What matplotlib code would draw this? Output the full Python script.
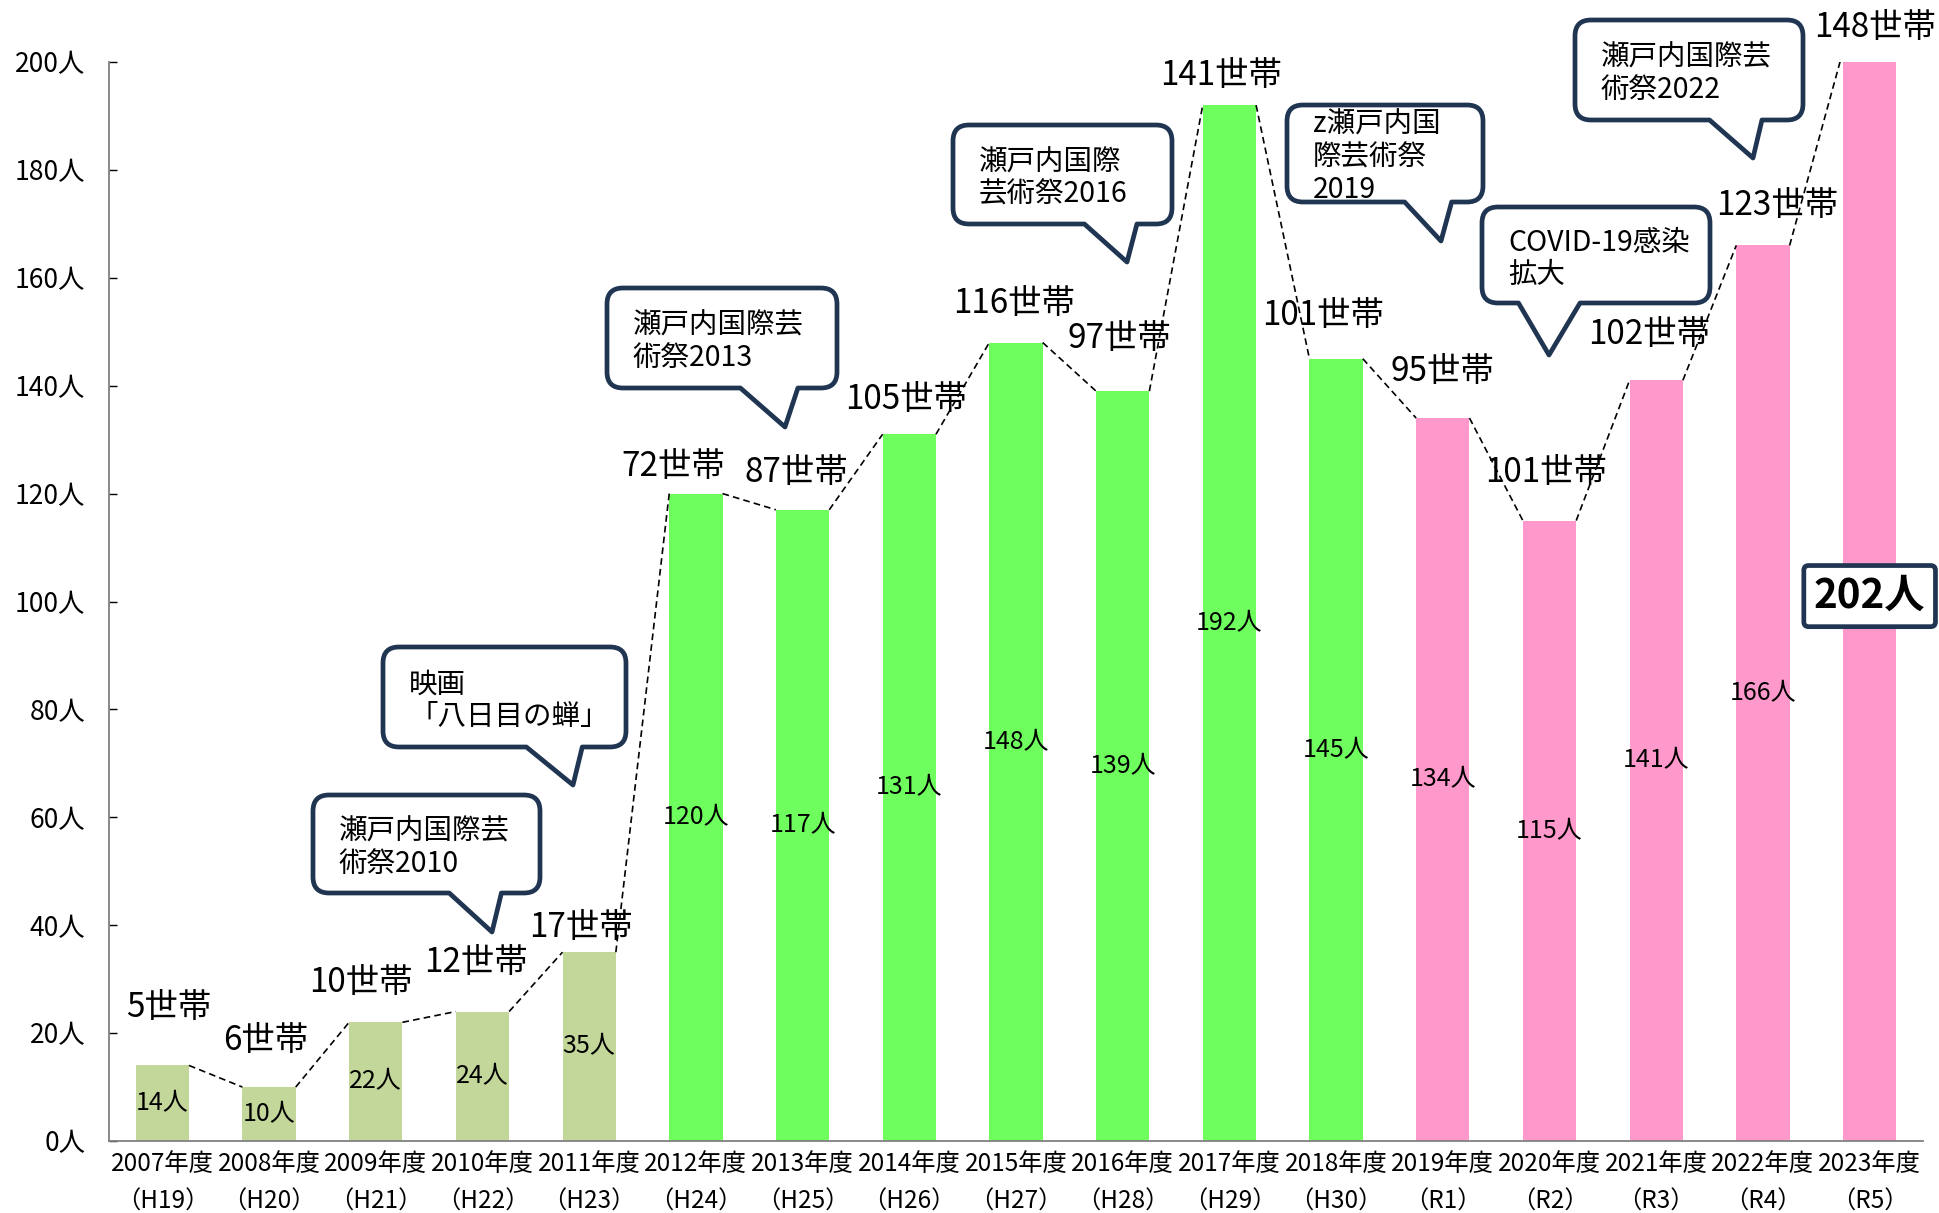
import matplotlib.pyplot as plt
import numpy as np
from matplotlib.path import Path
from matplotlib.patches import PathPatch

plt.rcParams['font.family'] = ['Noto Sans CJK JP', 'DejaVu Sans']

# Data
years = ["2007", "2008", "2009", "2010", "2011", "2012", "2013", "2014", "2015",
         "2016", "2017", "2018", "2019", "2020", "2021", "2022", "2023"]
eras = ["H19", "H20", "H21", "H22", "H23", "H24", "H25", "H26", "H27",
        "H28", "H29", "H30", "R1", "R2", "R3", "R4", "R5"]
people = [14, 10, 22, 24, 35, 120, 117, 131, 148, 139, 192, 145, 134, 115, 141, 166, 202]
households = [5, 6, 10, 12, 17, 72, 87, 105, 116, 97, 141, 101, 95, 101, 102, 123, 148]

# colour groups: 2007-2011, 2012-2018, 2019-2023
group_sizes = [5, 7, 5]
group_colors = ["#c4d79b", "#6eff5e", "#ff99cc"]

# hand placement of the 世帯 labels (data units)
hh_dx = [0.06, -0.03, -0.14, -0.06, -0.08, -0.21, -0.06, -0.03, -0.02,
         -0.03, -0.08, -0.12, 0.0, -0.03, -0.07, 0.13, 0.05]
hh_dy = [10.8, 8.6, 7.3, 9.0, 4.6, 5.0, 6.9, 6.5, 7.3,
         9.7, 5.5, 8.0, 8.7, 8.9, 8.4, 7.4, 6.4]

# callouts: box (left, top, right, bottom) in image pixels, tail base fractions, tip
callouts = [
    ("瀬戸内国際芸\n術祭2010", (313, 795, 540, 893), (0.60, 0.83), (492, 932)),
    ("映画\n「八日目の蝉」", (383, 647, 626, 747), (0.59, 0.82), (573, 785)),
    ("瀬戸内国際芸\n術祭2013", (607, 288, 837, 388), (0.58, 0.83), (785, 427)),
    ("瀬戸内国際\n芸術祭2016", (953, 125, 1172, 224), (0.60, 0.84), (1127, 262)),
    ("z瀬戸内国\n際芸術祭\n2019", (1287, 105, 1483, 202), (0.60, 0.84), (1441, 241)),
    ("COVID-19感染\n拡大", (1482, 207, 1710, 303), (0.16, 0.43), (1549, 355)),
    ("瀬戸内国際芸\n術祭2022", (1575, 20, 1803, 120), (0.59, 0.82), (1753, 158)),
]

W, H = 1939, 1213
navy = "#1f3552"

fig = plt.figure(figsize=(W / 100, H / 100), dpi=100)
ax = fig.add_axes([109 / W, 1 - 1141 / H, (1923 - 109) / W, (1141 - 62) / H])

x = np.arange(len(years))
colors = [c for c, n in zip(group_colors, group_sizes) for _ in range(n)]
ymax = 200
tops = np.minimum(people, ymax)
bw = 0.5

ax.bar(x, people, width=bw, color=colors, zorder=2)

# dashed connectors between neighbouring bar tops
for i in range(len(x) - 1):
    ax.plot([x[i] + bw / 2, x[i + 1] - bw / 2], [people[i], people[i + 1]],
            color="black", lw=1.2, ls=(0, (4, 2.5)), zorder=3)

# value labels inside bars
for i, v in enumerate(people):
    if i == len(people) - 1:
        ax.text(x[i], v / 2, f"{v}人", ha="center", va="center", fontsize=29,
                fontweight="bold", zorder=5, clip_on=False,
                bbox=dict(boxstyle="round,pad=0.25,rounding_size=0.12",
                          fc="white", ec=navy, lw=3.4))
    else:
        ax.text(x[i], tops[i] / 2, f"{v}人", ha="center", va="center",
                fontsize=18, zorder=4)

# household labels above bars
for i, h in enumerate(households):
    ax.text(x[i] + hh_dx[i], tops[i] + hh_dy[i], f"{h}世帯", ha="center",
            va="center", fontsize=24, zorder=4, clip_on=False)

ax.set_xlim(-0.5, len(x) - 0.5)
ax.set_ylim(0, ymax)
ax.set_yticks(np.arange(0, 201, 20))
ax.set_yticklabels([f"{t}人" for t in range(0, 201, 20)], fontsize=19)
ax.set_xticks(x)
ax.set_xticklabels([f"{y}年度\n（{e}）" for y, e in zip(years, eras)],
                   fontsize=17.5, linespacing=1.6)
ax.tick_params(axis="y", direction="in", length=6, width=1, pad=17)
ax.tick_params(axis="x", length=0, pad=7)
for s in ["top", "right"]:
    ax.spines[s].set_visible(False)
for s in ["left", "bottom"]:
    ax.spines[s].set_color("#808080")
    ax.spines[s].set_linewidth(1.3)

# overlay in image pixel coordinates for the speech bubbles
ov = fig.add_axes([0, 0, 1, 1], zorder=10)
ov.set_xlim(0, W)
ov.set_ylim(H, 0)
ov.axis("off")


def bubble(box, base, tip, r=16):
    x0, y0, x1, y1 = box
    b0 = x0 + base[0] * (x1 - x0)
    b1 = x0 + base[1] * (x1 - x0)
    verts = [(x0 + r, y0), (x1 - r, y0), (x1, y0), (x1, y0 + r),
             (x1, y1 - r), (x1, y1), (x1 - r, y1),
             (b1, y1), tip, (b0, y1),
             (x0 + r, y1), (x0, y1), (x0, y1 - r),
             (x0, y0 + r), (x0, y0), (x0 + r, y0), (x0 + r, y0)]
    codes = [Path.MOVETO, Path.LINETO, Path.CURVE3, Path.CURVE3,
             Path.LINETO, Path.CURVE3, Path.CURVE3,
             Path.LINETO, Path.LINETO, Path.LINETO,
             Path.LINETO, Path.CURVE3, Path.CURVE3,
             Path.LINETO, Path.CURVE3, Path.CURVE3, Path.CLOSEPOLY]
    return PathPatch(Path(verts, codes), fc="white", ec=navy, lw=3.4,
                     joinstyle="round")


for text, box, base, tip in callouts:
    ov.add_patch(bubble(box, base, tip))
    ov.text(box[0] + 26, (box[1] + box[3]) / 2 + 4, text, ha="left",
            va="center", fontsize=20.5, linespacing=1.12)

fig.savefig("out.png", dpi=100)
